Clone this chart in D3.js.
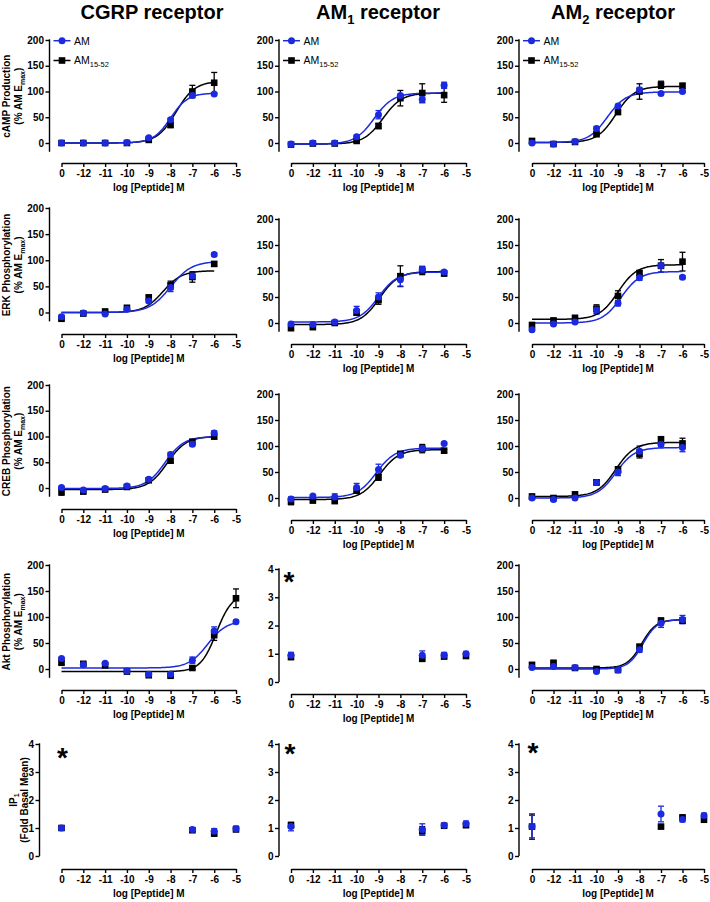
<!DOCTYPE html>
<html>
<head>
<meta charset="utf-8">
<script src="https://cdn.jsdelivr.net/npm/d3@7/dist/d3.min.js"></script>
<style>
html,body{margin:0;padding:0;background:#fff;}
svg text{font-family:"Liberation Sans", Arial, Helvetica, sans-serif;}
</style>
</head>
<body>
<svg id="chart" width="710" height="902"></svg>
<script>
// ================= DATA =================
const titleMain = ["CGRP", "AM", "AM"];
const titleSub = ["", "1", "2"];
const titleTail = " receptor";

const rowLabelMain = ["cAMP Production", "ERK Phosphorylation", "CREB Phosphorylation", "Akt Phosphorylation", "IP"];
const rowLabelSub = ["", "", "", "", "1"];
const xAxisTitle = "log [Peptide] M";

const seriesMain = ["AM", "AM"];
const seriesSub = ["", "15-52"];

const xTickValues = [-13, -12, -11, -10, -9, -8, -7, -6, -5];
const xTickLabels = ["0", "-12", "-11", "-10", "-9", "-8", "-7", "-6", "-5"];
const yTicksPct = [0, 50, 100, 150, 200];
const yTicksFold = [0, 1, 2, 3, 4];

// log doses (basal "0" plotted at the -13 slot)
const dosesFull = [-13, -12, -11, -10, -9, -8, -7, -6];
const dosesAkt = [-13, -12, -11, -10, -9, -8, -7, -6, -5];
const dosesIP = [-13, -7, -6, -5];

// cAMP production (% AM Emax): [CGRP, AM1, AM2]
const camp_AM = [[0, 0, 0, 1, 10, 45, 92, 95], [-2, 0, 0, 12, 55, 92, 85, 112], [0, -2, 3, 28, 72, 103, 96, 100]];
const camp_AM_sem = [[0, 0, 0, 0, 2, 3, 3, 2], [2, 1, 1, 3, 8, 3, 7, 6], [2, 2, 2, 4, 3, 5, 2, 2]];
const camp_AM1552 = [[0, 0, 0, 0, 6, 35, 100, 117], [-3, -1, -1, 4, 33, 87, 97, 93], [4, -2, 2, 17, 60, 100, 113, 111]];
const camp_AM1552_sem = [[0, 0, 0, 0, 2, 5, 12, 20], [2, 1, 1, 2, 5, 15, 18, 14], [3, 2, 2, 3, 3, 15, 7, 5]];
// fit parameters: [bottom, top, logEC50, hill]
const camp_fitAM = [[0, 97, -8.0, 1.1], [-2, 97, -9.2, 1], [1, 99, -9.5, 1]];
const camp_fitAM1552 = [[0, 120, -7.75, 1], [-2, 97, -8.8, 1], [1, 110, -9.1, 1]];

// ERK phosphorylation
const erk_AM = [[-8, -1, -3, 6, 22, 48, 70, 111], [-2, -3, 2, 24, 50, 83, 103, 98], [-13, -2, 2, 25, 38, 87, 110, 88]];
const erk_AM_sem = [[3, 2, 2, 3, 3, 8, 6, 3], [3, 2, 2, 8, 8, 12, 5, 3], [3, 2, 2, 8, 5, 5, 5, 3]];
const erk_AM1552 = [[-12, -2, 2, 9, 29, 52, 68, 93], [-10, -8, 0, 20, 44, 90, 101, 95], [-4, 5, 10, 27, 52, 96, 110, 118]];
const erk_AM1552_sem = [[3, 2, 2, 3, 3, 8, 10, 4], [4, 3, 2, 5, 8, 20, 8, 3], [5, 3, 3, 8, 10, 5, 12, 18]];
const erk_fitAM = [[0, 98, -8.0, 0.9], [2, 98, -9.0, 1], [0, 99, -8.85, 1]];
const erk_fitAM1552 = [[0, 80, -8.35, 1], [-3, 99, -8.95, 1], [7, 112, -9.0, 1]];

// CREB phosphorylation
const creb_AM = [[1, -4, -1, 4, 17, 65, 85, 107], [-2, 4, 2, 20, 55, 82, 95, 105], [0, -3, 0, 30, 50, 90, 103, 97]];
const creb_AM_sem = [[2, 2, 2, 2, 3, 4, 3, 4], [4, 2, 6, 8, 10, 4, 5, 2], [2, 2, 2, 5, 7, 10, 3, 8]];
const creb_AM1552 = [[-8, -7, -3, 2, 15, 53, 90, 100], [-7, -5, -6, 14, 40, 85, 95, 91], [3, 0, 7, 30, 55, 85, 113, 105]];
const creb_AM1552_sem = [[6, 2, 2, 2, 2, 3, 3, 5], [6, 3, 3, 4, 6, 4, 8, 3], [2, 2, 3, 4, 5, 8, 4, 10]];
const creb_fitAM = [[-1, 100, -8.25, 1], [1, 96, -9.1, 1], [0, 97, -9.1, 1]];
const creb_fitAM1552 = [[-3, 100, -8.15, 1], [-3, 93, -8.95, 1], [3, 107, -9.1, 1]];

// Akt phosphorylation (AM1 panel in fold over basal)
const akt_AM = [[20, 8, 11, -4, -10, -10, 17, 73, 91], [0.95, 0.95, 0.95, 1.0], [3, 5, 3, -5, -2, 37, 88, 95]];
const akt_AM_sem = [[2, 2, 2, 2, 2, 2, 6, 8, 3], [0.1, 0.15, 0.1, 0.08], [2, 2, 2, 2, 2, 5, 8, 8]];
const akt_AM1552 = [[12, 10, 7, -5, -12, -13, 2, 65, 136], [0.88, 0.82, 0.9, 0.92], [8, 12, 2, 0, -2, 43, 93, 93]];
const akt_AM1552_sem = [[3, 2, 2, 2, 2, 2, 3, 10, 18], [0.05, 0.05, 0.05, 0.05], [3, 3, 2, 2, 2, 4, 5, 5]];
const akt_fitAM = [[2, 93, -6.3, 1], null, [0, 95, -7.85, 1.3]];
const akt_fitAM1552 = [[-5, 145, -5.9, 1.2], null, [2, 95, -7.9, 1.3]];

// IP1 (fold basal mean)
const ip1_AM = [[1.0, 0.95, 0.88, 0.97], [1.05, 0.95, 1.1, 1.15], [1.05, 1.5, 1.3, 1.45]];
const ip1_AM_sem = [[0.05, 0.05, 0.1, 0.1], [0.15, 0.2, 0.05, 0.1], [0.4, 0.28, 0.08, 0.08]];
const ip1_AM1552 = [[1.0, 0.92, 0.8, 0.95], [1.1, 0.9, 1.08, 1.1], [1.05, 1.05, 1.38, 1.3]];
const ip1_AM1552_sem = [[0.05, 0.05, 0.08, 0.05], [0.1, 0.15, 0.05, 0.05], [0.45, 0.05, 0.05, 0.1]];
const ip1_fitNone = [null, null, null];

// ================= LAYOUT =================
const BLUE = "#1b2ae0";
const BLACK = "#000000";
const AXW = 1.4;

const colGeom = [
  {axis: 49.5, x0: 61.5, x1: 236, title: 152},
  {axis: 279, x0: 291, x1: 466, title: 378},
  {axis: 519, x0: 532, x1: 704, title: 613}
];
// [y of top tick, y of zero, y of x-axis]
const rowGeom = [
  [[40, 143, 163], [40, 143, 163], [40, 143, 163]],
  [[208, 312.5, 334], [219, 323, 344], [219, 323, 344]],
  [[385, 488, 509], [394, 498, 520], [394, 498, 520]],
  [[565, 669, 690], [569, 682, 694], [565, 669, 690]],
  [[744, 856, 869], [744, 856, 869], [744, 856, 869]]
];
// y-label line centers (x) for first column
const ylabX = [[6.5, 18.5], [6.5, 18.5], [6.5, 18.5], [6.5, 18.5], [13, 24.5]];
const asteriskOff = [[null, null, null], [null, null, null], [null, null, null], [null, [10, 7], null], [[23, 8], [11, 4], [14, 3]]];

const rowData = [
  {a: camp_AM, aS: camp_AM_sem, b: camp_AM1552, bS: camp_AM1552_sem, fa: camp_fitAM, fb: camp_fitAM1552},
  {a: erk_AM, aS: erk_AM_sem, b: erk_AM1552, bS: erk_AM1552_sem, fa: erk_fitAM, fb: erk_fitAM1552},
  {a: creb_AM, aS: creb_AM_sem, b: creb_AM1552, bS: creb_AM1552_sem, fa: creb_fitAM, fb: creb_fitAM1552},
  {a: akt_AM, aS: akt_AM_sem, b: akt_AM1552, bS: akt_AM1552_sem, fa: akt_fitAM, fb: akt_fitAM1552},
  {a: ip1_AM, aS: ip1_AM_sem, b: ip1_AM1552, bS: ip1_AM1552_sem, fa: ip1_fitNone, fb: ip1_fitNone}
];
const doseSets = [
  [dosesFull, dosesFull, dosesFull],
  [dosesFull, dosesFull, dosesFull],
  [dosesFull, dosesFull, dosesFull],
  [dosesAkt, dosesIP, dosesFull],
  [dosesIP, dosesIP, dosesIP]
];

const svg = d3.select("#chart");

function logistic(p, x) {
  return p[0] + (p[1] - p[0]) / (1 + Math.pow(10, (p[2] - x) * p[3]));
}

// Column titles
titleMain.forEach((t, c) => {
  const tx = svg.append("text")
    .attr("x", colGeom[c].title).attr("y", 19)
    .attr("text-anchor", "middle")
    .attr("font-size", 20).attr("font-weight", "bold").attr("fill", "#000");
  tx.append("tspan").text(t);
  if (titleSub[c]) {
    tx.append("tspan").attr("font-size", 13).attr("dy", 5).text(titleSub[c]);
    tx.append("tspan").attr("dy", -5).text(titleTail);
  } else {
    tx.append("tspan").text(titleTail);
  }
});

for (let r = 0; r < 5; r++) {
  for (let c = 0; c < 3; c++) {
    const fold = (r === 4) || (r === 3 && c === 1);
    const [yTop, yZero, xAxisY] = rowGeom[r][c];
    const cg = colGeom[c];
    const axisX = (r === 4 && c === 0) ? 39.5 : cg.axis;
    const x = d3.scaleLinear().domain([-13, -5]).range([cg.x0, cg.x1]);
    const yMax = fold ? 4 : 200;
    const y = d3.scaleLinear().domain([0, yMax]).range([yZero, yTop]);
    const panel = svg.append("g");

    // Y axis
    const gy = panel.append("g").attr("transform", `translate(${axisX},0)`)
      .call(d3.axisLeft(y).tickValues(fold ? yTicksFold : yTicksPct).tickFormat(d3.format("d"))
        .tickSize(4).tickPadding(1.5).tickSizeOuter(0));
    gy.select(".domain").remove();
    gy.append("line").attr("x1", 0).attr("x2", 0)
      .attr("y1", y(yMax) - 0.7).attr("y2", y(fold ? 0 : -17))
      .attr("stroke", "#000").attr("stroke-width", AXW);
    gy.selectAll(".tick line").attr("stroke-width", AXW);
    gy.selectAll(".tick text").attr("font-size", 10).attr("font-weight", "bold").attr("fill", "#000");

    // X axis
    const gx = panel.append("g").attr("transform", `translate(0,${xAxisY})`)
      .call(d3.axisBottom(x).tickValues(xTickValues).tickFormat((d, i) => xTickLabels[i])
        .tickSize(4).tickPadding(3).tickSizeOuter(0));
    gx.select(".domain").attr("stroke-width", AXW);
    gx.selectAll(".tick line").attr("stroke-width", AXW);
    gx.selectAll(".tick text").attr("font-size", 10).attr("font-weight", "bold").attr("fill", "#000");

    panel.append("text")
      .attr("x", (cg.x0 + cg.x1) / 2).attr("y", xAxisY + 28)
      .attr("text-anchor", "middle").attr("font-size", 10).attr("font-weight", "bold")
      .text(xAxisTitle);

    // Y label (first column only)
    if (c === 0) {
      const cy = fold ? (yTop + yZero) / 2 : y(91);
      const l1 = panel.append("text")
        .attr("transform", `translate(${ylabX[r][0]},${cy}) rotate(-90)`)
        .attr("dy", "0.35em").attr("text-anchor", "middle")
        .attr("font-size", 10).attr("font-weight", "bold");
      l1.append("tspan").text(rowLabelMain[r]);
      if (rowLabelSub[r]) l1.append("tspan").attr("font-size", 7).attr("dy", 2.5).text(rowLabelSub[r]);
      const l2 = panel.append("text")
        .attr("transform", `translate(${ylabX[r][1]},${cy}) rotate(-90)`)
        .attr("dy", "0.35em").attr("text-anchor", "middle")
        .attr("font-size", 10).attr("font-weight", "bold");
      if (fold) {
        l2.append("tspan").text("(Fold Basal Mean)");
      } else {
        l2.append("tspan").text("(% AM E");
        l2.append("tspan").attr("font-size", 7).attr("dy", 2.5).text("max");
        l2.append("tspan").attr("dy", -2.5).text(")");
      }
    }

    const doses = doseSets[r][c];
    const rd = rowData[r];
    const series = [
      {vals: rd.b[c], sem: rd.bS[c], fit: rd.fb[c], color: BLACK, shape: "square"},
      {vals: rd.a[c], sem: rd.aS[c], fit: rd.fa[c], color: BLUE, shape: "circle"}
    ];

    // error bars
    series.forEach(s => {
      const eg = panel.append("g").attr("stroke", s.color).attr("stroke-width", 1.3);
      s.vals.forEach((v, i) => {
        const e = s.sem[i];
        if (!e) return;
        const xp = x(doses[i]);
        eg.append("line").attr("x1", xp).attr("x2", xp).attr("y1", y(v - e)).attr("y2", y(v + e));
        eg.append("line").attr("x1", xp - 3).attr("x2", xp + 3).attr("y1", y(v + e)).attr("y2", y(v + e));
        eg.append("line").attr("x1", xp - 3).attr("x2", xp + 3).attr("y1", y(v - e)).attr("y2", y(v - e));
      });
    });

    // fitted curves
    series.forEach(s => {
      if (!s.fit) return;
      const xEnd = doses[doses.length - 1];
      const pts = d3.range(-13, xEnd + 0.0001, 0.05).map(xv => [xv, logistic(s.fit, xv)]);
      panel.append("path")
        .attr("d", d3.line().x(d => x(d[0])).y(d => y(d[1]))(pts))
        .attr("fill", "none").attr("stroke", s.color).attr("stroke-width", 1.5);
    });

    // markers
    series.forEach(s => {
      s.vals.forEach((v, i) => {
        const xp = x(doses[i]), yp = y(v);
        if (s.shape === "square") {
          panel.append("rect").attr("x", xp - 3.3).attr("y", yp - 3.3)
            .attr("width", 6.6).attr("height", 6.6).attr("fill", s.color);
        } else {
          panel.append("circle").attr("cx", xp).attr("cy", yp).attr("r", 3.5).attr("fill", s.color);
        }
      });
    });

    // legend (top row)
    if (r === 0) {
      const lx = axisX + 4;
      [[BLUE, "circle", y(200) + 0.7, 0], [BLACK, "square", y(200) + 20.5, 1]].forEach(([col, shp, ly, k]) => {
        panel.append("line").attr("x1", lx).attr("x2", lx + 17).attr("y1", ly).attr("y2", ly)
          .attr("stroke", col).attr("stroke-width", 1.5);
        if (shp === "circle") panel.append("circle").attr("cx", lx + 8.5).attr("cy", ly).attr("r", 3.5).attr("fill", col);
        else panel.append("rect").attr("x", lx + 5.2).attr("y", ly - 3.3).attr("width", 6.6).attr("height", 6.6).attr("fill", col);
        const t = panel.append("text").attr("x", lx + 20.5).attr("y", ly + 3.8)
          .attr("font-size", 10.5).attr("fill", "#000");
        t.append("tspan").text(seriesMain[k]);
        if (seriesSub[k]) t.append("tspan").attr("font-size", 7.5).attr("dy", 2.5).text(seriesSub[k]);
      });
    }

    // asterisk
    const ao = asteriskOff[r][c];
    if (ao) {
      panel.append("text").attr("x", axisX + ao[0]).attr("y", y(4) + ao[1] + 15)
        .attr("text-anchor", "middle").attr("font-size", 28).attr("font-weight", "bold").text("*");
    }
  }
}
</script>
</body>
</html>
